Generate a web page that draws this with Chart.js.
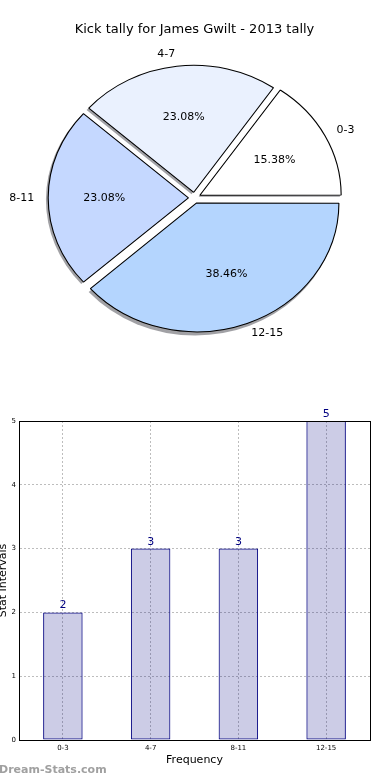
<!DOCTYPE html>
<html>
<head>
<meta charset="utf-8">
<script src="https://cdn.jsdelivr.net/npm/chart.js@4.4.0/dist/chart.umd.min.js"></script>
<style>
  body { margin: 0; width: 390px; height: 780px; background: #fff; position: relative; overflow: hidden; }
  #pie { position: absolute; left: 0; top: 0; }
  #bars { position: absolute; left: 0; top: 400px; }
  .mark { position: absolute; left: -1px; top: 763px; font: bold 11px 'DejaVu Sans', sans-serif; color: #a0a0a0; }
</style>
</head>
<body>
<canvas id="pie" width="390" height="348"></canvas>
<canvas id="bars" width="390" height="380"></canvas>
<div class="mark">Dream-Stats.com</div>
<script>
const chartTitle = 'Kick tally for James Gwilt - 2013 tally';
const ranges = ['0-3', '4-7', '8-11', '12-15'];
const counts = [2, 3, 3, 5];
const sliceColors = ['#ffffff', '#eaf1fe', '#c5d8ff', '#b4d5fe'];
const yTicks = [0, 1, 2, 3, 4, 5];

const family = "'DejaVu Sans', sans-serif";
const SX = 1.104;          // the pie is a little wider than tall
const shadowDX = -2, shadowDY = 2;

// matplotlib goes counter-clockwise from 3 o'clock, chart.js goes clockwise,
// so feed the slices backwards
const pieLabels = ranges.slice().reverse();
const pieData = counts.slice().reverse();
const pieColors = sliceColors.slice().reverse();
const total = counts.reduce((s, v) => s + v, 0);

const squash = {
    id: 'squash',
    beforeDatasetsDraw(chart) {
        const ctx = chart.ctx;
        const arcs = chart.getDatasetMeta(0).data;
        const cx = arcs[0].x;
        ctx.save();
        ctx.translate(cx, 0);
        ctx.scale(SX, 1);
        ctx.translate(-cx, 0);

        // shadows go under all wedges
        ctx.fillStyle = 'rgba(30,30,40,0.42)';
        arcs.forEach(a => {
            const mid = (a.startAngle + a.endAngle) / 2;
            const off = a.options.offset / 4;
            const fix = 1 - Math.sin(Math.min(Math.PI, a.circumference));
            const push = off + off * fix;
            const x = a.x + Math.cos(mid) * push + shadowDX;
            const y = a.y + Math.sin(mid) * push + shadowDY;
            ctx.beginPath();
            ctx.moveTo(x, y);
            ctx.arc(x, y, a.outerRadius + off * fix, a.startAngle, a.endAngle);
            ctx.closePath();
            ctx.fill();
        });
    },
    afterDatasetsDraw(chart) {
        const ctx = chart.ctx;
        ctx.restore();

        const arcs = chart.getDatasetMeta(0).data;
        const cx = arcs[0].x;
        ctx.save();
        ctx.font = '11px ' + family;
        ctx.fillStyle = '#000';
        ctx.textBaseline = 'middle';
        arcs.forEach((a, i) => {
            const mid = (a.startAngle + a.endAngle) / 2;
            const cos = Math.cos(mid), sin = Math.sin(mid);
            const push = a.options.offset / 4;
            const at = k => [
                cx + (a.x + cos * (push + k * a.outerRadius) - cx) * SX,
                a.y + sin * (push + k * a.outerRadius)
            ];
            const [lx, ly] = at(1.1);
            ctx.textAlign = cos > 0 ? 'left' : 'right';
            ctx.fillText(chart.data.labels[i], lx, ly);

            const v = chart.data.datasets[0].data[i];
            const [px, py] = at(0.6);
            ctx.textAlign = 'center';
            ctx.fillText((v / total * 100).toFixed(2) + '%', px, py);
        });
        ctx.restore();
    }
};

new Chart(document.getElementById('pie'), {
    type: 'pie',
    data: {
        labels: pieLabels,
        datasets: [{
            data: pieData,
            backgroundColor: pieColors,
            borderColor: '#000',
            borderWidth: 1,
            offset: 22
        }]
    },
    options: {
        responsive: false,
        animation: false,
        rotation: 90,
        radius: 127,
        layout: { padding: { right: 1 } },
        plugins: {
            legend: { display: false },
            tooltip: { enabled: false },
            title: {
                display: true,
                text: chartTitle,
                color: '#000',
                font: { size: 13, weight: 'normal', family },
                padding: { top: 22, bottom: 10 }
            }
        }
    },
    plugins: [squash]
});

const frameAndValues = {
    id: 'frameAndValues',
    afterDatasetsDraw(chart) {
        const ctx = chart.ctx;
        const bars = chart.getDatasetMeta(0).data;
        ctx.save();
        ctx.font = '11px ' + family;
        ctx.fillStyle = '#000080';
        ctx.textAlign = 'center';
        ctx.textBaseline = 'alphabetic';
        bars.forEach((b, i) => {
            ctx.fillText(chart.data.datasets[0].data[i], b.x, b.y - 4);
        });
        ctx.restore();
    },
    afterDraw(chart) {
        const { left, top, right, bottom } = chart.chartArea;
        const ctx = chart.ctx;
        ctx.save();
        ctx.strokeStyle = '#000';
        ctx.lineWidth = 1;
        ctx.strokeRect(Math.round(left) + 0.5, Math.round(top) + 0.5,
            Math.round(right - left), Math.round(bottom - top));
        ctx.restore();
    }
};

new Chart(document.getElementById('bars'), {
    type: 'bar',
    data: {
        labels: ranges,
        datasets: [{
            data: counts,
            backgroundColor: 'rgba(0,0,128,0.2)',
            borderColor: '#000080',
            borderWidth: 1,
            borderSkipped: false,
            barPercentage: 0.45,
            categoryPercentage: 1
        }]
    },
    options: {
        responsive: false,
        animation: false,
        layout: { padding: { top: 21, right: 20, left: 0, bottom: 0 } },
        plugins: {
            legend: { display: false },
            tooltip: { enabled: false }
        },
        scales: {
            x: {
                grid: { offset: false, color: '#bdbdbd', drawTicks: false },
                border: { color: '#000', dash: [2, 2] },
                ticks: { font: { size: 7, family }, color: '#000', padding: 4, maxRotation: 0 },
                title: {
                    display: true, text: 'Frequency', color: '#000',
                    font: { size: 11, family }, padding: { top: 0, bottom: 13 }
                },
                afterFit: s => { s.height = 40; }
            },
            y: {
                min: yTicks[0],
                max: yTicks[yTicks.length - 1],
                afterBuildTicks: s => { s.ticks = yTicks.map(v => ({ value: v })); },
                grid: { color: '#bdbdbd', drawTicks: false },
                border: { color: '#000', dash: [2, 2] },
                ticks: { font: { size: 7, family }, color: '#000', padding: 3 },
                title: {
                    display: true, text: 'Stat Intervals', color: '#000',
                    font: { size: 11, family }, padding: { top: -3, bottom: 0 }
                },
                afterFit: s => { s.width = 19; }
            }
        }
    },
    plugins: [frameAndValues]
});
</script>
</body>
</html>
